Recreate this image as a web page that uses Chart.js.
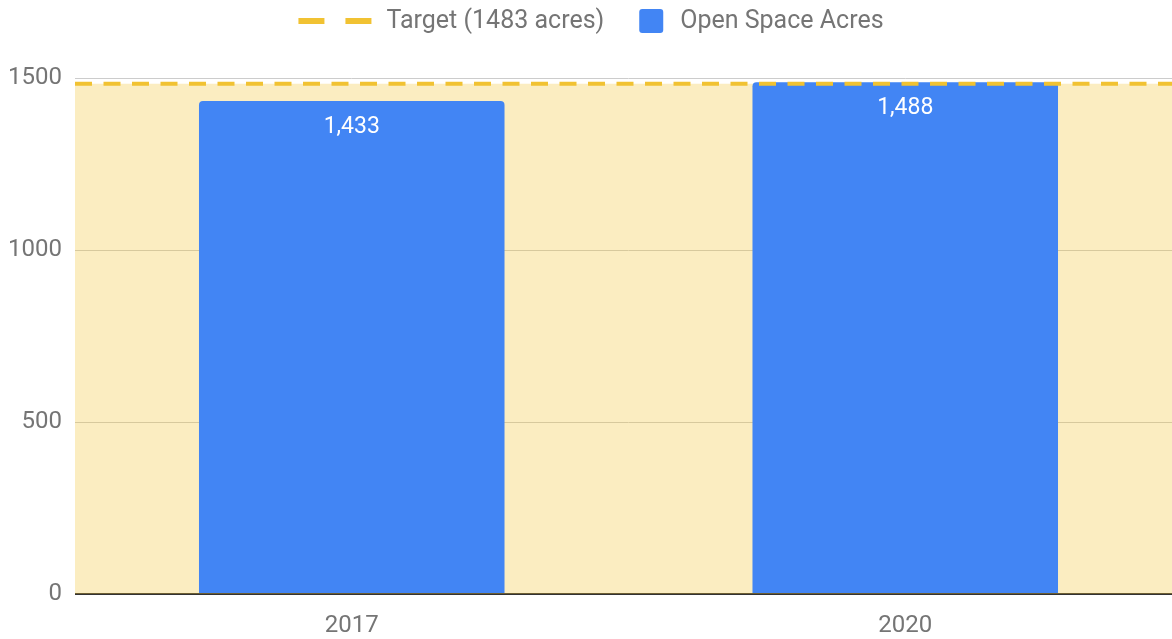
<!DOCTYPE html>
<html lang="en">
<head>
    <meta charset="UTF-8">
    <title>Open Space Acres</title>
    <style>
        body {
            margin: 0;
            overflow: hidden;
            background: #ffffff;
        }

        #wrap {
            width: 1182px;
            height: 639px;
            position: relative;
        }
    </style>
</head>
<body>
    <div id="wrap">
        <canvas id="acresChart"></canvas>
    </div>

    <script src="https://cdn.jsdelivr.net/npm/chart.js@4.4.3/dist/chart.umd.min.js"></script>
    <script>
        // values
        const years = ['2017', '2020'];
        const openSpaceAcres = [1433, 1488];
        const targetAcres = 1483;
        const targetSpan = [0, 1];   // left and right edge of the plot on the hidden x2 axis
        const yTicks = [0, 500, 1000, 1500];

        const labelNames = ['Target (1483 acres)', 'Open Space Acres'];

        const FONT = 'Roboto, "Noto Sans", Arial, sans-serif';
        const GREY = '#757575';
        const BLUE = '#4285f4';
        const YELLOW = '#f1c232';

        // value labels inside the top of each bar
        const barLabels = {
            id: 'barLabels',
            afterDatasetsDraw(chart) {
                const ctx = chart.ctx;
                const meta = chart.getDatasetMeta(1);
                ctx.save();
                ctx.font = '23px ' + FONT;
                ctx.fillStyle = '#ffffff';
                ctx.textAlign = 'center';
                ctx.textBaseline = 'middle';
                meta.data.forEach((bar, i) => {
                    ctx.fillText(openSpaceAcres[i].toLocaleString('en-US'), bar.x, bar.y + 26);
                });
                ctx.restore();
            }
        };

        // legend drawn by hand: dashed line + rounded square
        const topLegend = {
            id: 'topLegend',
            afterDraw(chart) {
                const ctx = chart.ctx;
                ctx.save();
                ctx.font = '25px ' + FONT;
                const w1 = ctx.measureText(labelNames[0]).width;
                const w2 = ctx.measureText(labelNames[1]).width;
                const lineW = 73, sq = 24;
                const total = lineW + 15 + w1 + 35 + sq + 17 + w2;
                let x = chart.width / 2 - total / 2;
                const cy = 21;

                ctx.strokeStyle = YELLOW;
                ctx.lineWidth = 6;
                ctx.setLineDash([26, 21]);
                ctx.beginPath();
                ctx.moveTo(x, cy);
                ctx.lineTo(x + lineW, cy);
                ctx.stroke();
                ctx.setLineDash([]);
                x += lineW + 15;

                ctx.fillStyle = GREY;
                ctx.textBaseline = 'middle';
                ctx.fillText(labelNames[0], x, cy + 1);
                x += w1 + 35;

                ctx.fillStyle = BLUE;
                ctx.beginPath();
                ctx.roundRect(x, cy - sq / 2, sq, sq, 3);
                ctx.fill();
                x += sq + 17;

                ctx.fillStyle = GREY;
                ctx.fillText(labelNames[1], x, cy + 1);
                ctx.restore();
            }
        };

        new Chart(document.getElementById('acresChart'), {
            type: 'bar',
            data: {
                labels: years,
                datasets: [
                    {
                        type: 'line',
                        label: labelNames[0],
                        xAxisID: 'x2',
                        data: targetSpan.map(x => ({ x: x, y: targetAcres })),
                        borderColor: YELLOW,
                        borderWidth: 4,
                        borderDash: [17, 11.5],
                        backgroundColor: 'rgba(241, 194, 50, 0.3)',
                        fill: 'origin',
                        pointRadius: 0,
                        tension: 0,
                        order: 0
                    },
                    {
                        type: 'bar',
                        label: labelNames[1],
                        data: openSpaceAcres,
                        backgroundColor: BLUE,
                        borderRadius: 4,
                        borderSkipped: 'start',
                        grouped: false,
                        categoryPercentage: 1,
                        barPercentage: 0.552,
                        order: 1
                    }
                ]
            },
            options: {
                responsive: true,
                maintainAspectRatio: false,
                animation: false,
                layout: { padding: { top: 78, left: 0, right: 0, bottom: 0 } },
                plugins: {
                    legend: { display: false },
                    tooltip: { enabled: false },
                    filler: { drawTime: 'beforeDatasetsDraw' }
                },
                scales: {
                    x: {
                        type: 'category',
                        grid: { display: false },
                        border: { display: false },
                        ticks: {
                            color: GREY,
                            font: { family: FONT, size: 24 },
                            padding: 10
                        },
                        afterFit: s => { s.height = 45; }
                    },
                    x2: {
                        type: 'linear',
                        display: false,
                        offset: false,
                        min: targetSpan[0],
                        max: targetSpan[1]
                    },
                    y: {
                        min: yTicks[0],
                        max: yTicks[yTicks.length - 1],
                        border: { display: false },
                        grid: {
                            drawTicks: false,
                            color: c => c.tick && c.tick.value === 0 ? '#333333' : '#cccccc',
                            lineWidth: c => c.tick && c.tick.value === 0 ? 2 : 1
                        },
                        afterBuildTicks: s => { s.ticks = yTicks.map(v => ({ value: v })); },
                        ticks: {
                            color: GREY,
                            font: { family: FONT, size: 24 },
                            padding: 13,
                            callback: v => String(v)
                        },
                        afterFit: s => { s.width = 75; }
                    }
                }
            },
            plugins: [barLabels, topLegend]
        });
    </script>
</body>
</html>
